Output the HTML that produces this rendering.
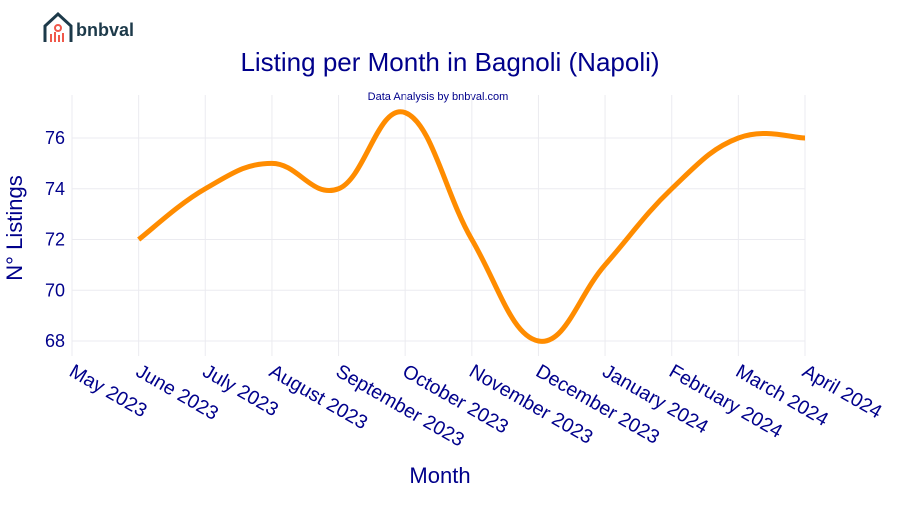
<!DOCTYPE html>
<html><head><meta charset="utf-8"><style>
body{margin:0;background:#fff;font-family:"Liberation Sans",sans-serif}
</style></head><body>
<svg width="900" height="500" xmlns="http://www.w3.org/2000/svg">
<g>
<path d="M45,42 L45,26 L58,14 L71,26 L71,42" fill="none" stroke="#1d3a4a" stroke-width="3"/>
<circle cx="58" cy="28" r="3" fill="none" stroke="#f0584a" stroke-width="2"/>
<rect x="50" y="34" width="2" height="8" fill="#f0584a"/><rect x="54" y="32" width="2" height="10" fill="#f0584a"/>
<rect x="58" y="35" width="2" height="7" fill="#f0584a"/><rect x="62" y="33" width="2" height="9" fill="#f0584a"/>
<text x="76" y="36" font-size="18" font-weight="bold" fill="#1d3a4a">bnbval</text>
</g>
<text x="450" y="71" text-anchor="middle" font-size="26" fill="#00008b">Listing per Month in Bagnoli (Napoli)</text>
<text x="438" y="100" text-anchor="middle" font-size="11" fill="#00008b">Data Analysis by bnbval.com</text>
<g id="grid"></g><g id="xt"></g><g id="yt"></g>
<path id="line" fill="none" stroke="#ff8c00" stroke-width="5" stroke-linejoin="round"/>
<text x="440" y="483" text-anchor="middle" font-size="22" fill="#00008b">Month</text>
<text transform="translate(22,228) rotate(-90)" text-anchor="middle" font-size="22" fill="#00008b">N° Listings</text>
</svg>
<script>
const months=["May 2023","June 2023","July 2023","August 2023","September 2023","October 2023","November 2023","December 2023","January 2024","February 2024","March 2024","April 2024"];
const dataMonths=["June 2023","July 2023","August 2023","September 2023","October 2023","November 2023","December 2023","January 2024","February 2024","March 2024","April 2024"];
const listings=[72,74,75,74,77,72,68,71,74,76,76];
const yTicks=[68,70,72,74,76];
const NS="http://www.w3.org/2000/svg";
const x=i=>72+i*(805-72)/11;
const y=v=>341-(v-68)*(341-138)/8;
const grid=document.getElementById('grid'),xt=document.getElementById('xt'),yt=document.getElementById('yt');
months.forEach((m,i)=>{
 const l=document.createElementNS(NS,'line');
 l.setAttribute('x1',x(i));l.setAttribute('x2',x(i));l.setAttribute('y1',95);l.setAttribute('y2',356);
 l.setAttribute('stroke','#ebebf0');
 
 
 grid.appendChild(l);
 const t=document.createElementNS(NS,'text');
 t.setAttribute('transform',`translate(${x(i)-4},${375}) rotate(30)`);
 t.setAttribute('font-size','19.5');t.setAttribute('fill','#00008b');
 t.textContent=m;
 
 
 xt.appendChild(t);
});
yTicks.forEach(v=>{
 const l=document.createElementNS(NS,'line');
 l.setAttribute('x1',72);l.setAttribute('x2',805);l.setAttribute('y1',y(v));l.setAttribute('y2',y(v));
 l.setAttribute('stroke','#ebebf0');
 
 
 grid.appendChild(l);
 const t=document.createElementNS(NS,'text');
 t.setAttribute('x',65);t.setAttribute('y',y(v)+6);t.setAttribute('text-anchor','end');
 t.setAttribute('font-size','18');t.setAttribute('fill','#00008b');
 t.textContent=v;
 
 
 yt.appendChild(t);
});
const pts=listings.map((v,i)=>[x(months.indexOf(dataMonths[i])),y(v)]);
let d=`M${pts[0][0]},${pts[0][1]}`;
for(let i=0;i<pts.length-1;i++){
 const p0=pts[Math.max(i-1,0)],p1=pts[i],p2=pts[i+1],p3=pts[Math.min(i+2,pts.length-1)];
 const k=0.2;
 d+=` C${p1[0]+(p2[0]-p0[0])*k},${p1[1]+(p2[1]-p0[1])*k} ${p2[0]-(p3[0]-p1[0])*k},${p2[1]-(p3[1]-p1[1])*k} ${p2[0]},${p2[1]}`;
}
document.getElementById('line').setAttribute('d',d);
</script>
</body></html>
